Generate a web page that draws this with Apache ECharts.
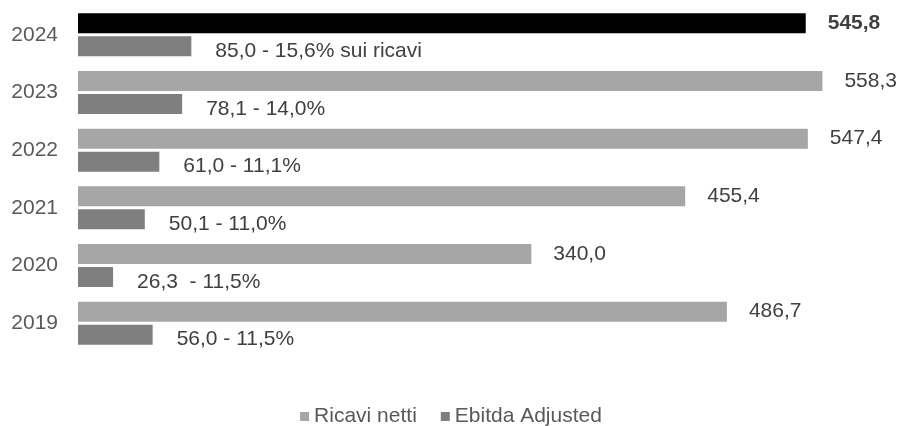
<!DOCTYPE html>
<html><head><meta charset="utf-8">
<script src="https://cdn.jsdelivr.net/npm/echarts@6/dist/echarts.min.js"></script>
<style>html,body{margin:0;padding:0;background:#fff}#c{width:902px;height:426px}</style>
</head><body><div id="c"></div>
<script>
const years = ['2024','2023','2022','2021','2020','2019'];
const ricavi = [545.8, 558.3, 547.4, 455.4, 340.0, 486.7];
const ebitda = [85.0, 78.1, 61.0, 50.1, 26.3, 56.0];
const ebitdaLabels = ['85,0 - 15,6% sui ricavi','78,1 - 14,0%','61,0 - 11,1%','50,1 - 11,0%','26,3  - 11,5%','56,0 - 11,5%'];
const fmt = v => v.toFixed(1).replace('.', ',');
const font = 'Liberation Sans, Arial, sans-serif';
const chart = echarts.init(document.getElementById('c'));
chart.setOption({
  animation: false,
  textStyle: {fontFamily: font},
  grid: {left: 78, right: 24, top: 6, bottom: 74, containLabel: false},
  xAxis: {type: 'value', min: 0, max: 600, show: false},
  yAxis: {type: 'category', data: years, inverse: true,
    axisLine: {show: false}, axisTick: {show: false},
    axisLabel: {color: '#595959', fontSize: 21, fontFamily: font, margin: 20}},
  legend: {top: 401, left: 'center', icon: 'rect', itemWidth: 9, itemHeight: 9, itemGap: 24, itemTextGap: 4,
    textStyle: {color: '#595959', fontSize: 21, fontFamily: font},
    data: ['Ricavi netti', 'Ebitda Adjusted']},
  series: [
    {name: 'Ricavi netti', type: 'bar', barWidth: 20, barGap: '15%',
     itemStyle: {color: '#a6a6a6'},
     data: ricavi.map((v, i) => i === 0 ? {value: v, itemStyle: {color: '#000000'},
        label: {fontWeight: 'bold'}} : v),
     label: {show: true, position: 'right', distance: 22, color: '#404040', fontSize: 21, fontFamily: font,
       formatter: p => fmt(p.value)}},
    {name: 'Ebitda Adjusted', type: 'bar', barWidth: 20,
     itemStyle: {color: '#7f7f7f'},
     data: ebitda,
     label: {show: true, position: 'right', distance: 24, offset: [0, 5], color: '#404040', fontSize: 21, fontFamily: font,
       formatter: p => ebitdaLabels[p.dataIndex]}}
  ]
});
</script></body></html>
